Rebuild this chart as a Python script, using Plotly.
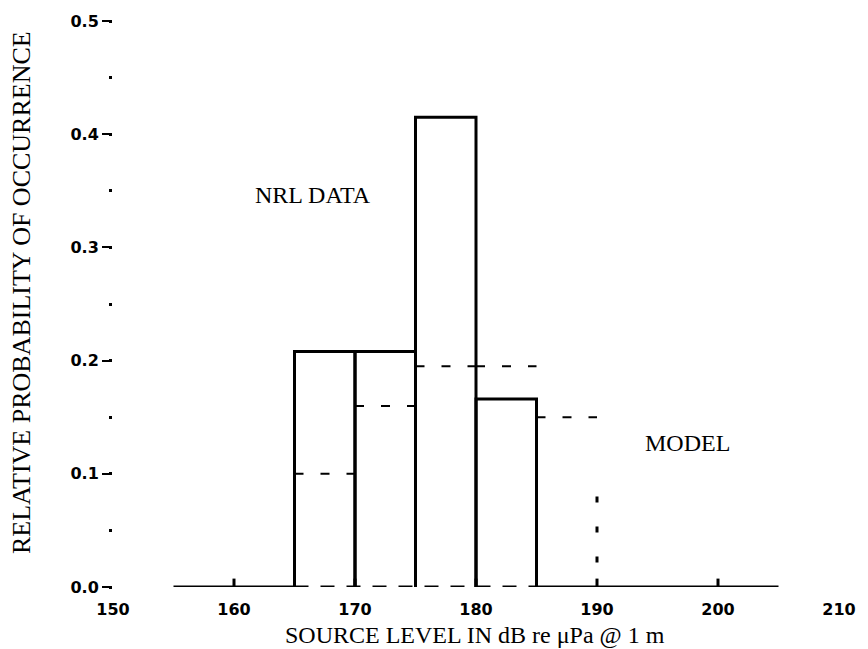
import plotly.graph_objects as go

# NRL data histogram (bin edges and relative probability)
nrl_lo = [165, 170, 175, 180]
nrl_hi = [170, 175, 180, 185]
nrl_val = [0.208, 0.208, 0.415, 0.166]

# Model (dashed levels per bin)
model_lo = [165, 170, 175, 180, 185]
model_hi = [170, 175, 180, 185, 190]
model_val = [0.10, 0.16, 0.195, 0.195, 0.15]
model_tail_x = 190
model_tail_val = 0.08

# Baseline extent and tick marks on it
base_solid = [(155, 165), (185, 205)]
base_dashed = (165, 185)
base_ticks = [160, 165, 170, 175, 180, 185, 190, 200]

x_ticks = [150, 160, 170, 180, 190, 200, 210]
y_ticks = [0.0, 0.1, 0.2, 0.3, 0.4, 0.5]

fig = go.Figure()

# NRL bars (three sides, no bottom)
bx, by = [], []
for lo, hi, v in zip(nrl_lo, nrl_hi, nrl_val):
    bx += [lo, lo, hi, hi, None]
    by += [0, v, v, 0, None]
fig.add_trace(go.Scatter(x=bx, y=by, mode="lines",
                         line=dict(color="black", width=3), hoverinfo="skip"))

# Model dashed levels
mx, my = [], []
for lo, hi, v in zip(model_lo, model_hi, model_val):
    mx += [lo, hi, None]
    my += [v, v, None]
fig.add_trace(go.Scatter(x=mx, y=my, mode="lines",
                         line=dict(color="black", width=2, dash="9px,17px"), hoverinfo="skip"))
fig.add_trace(go.Scatter(x=[model_tail_x, model_tail_x], y=[model_tail_val, 0], mode="lines",
                         line=dict(color="black", width=3, dash="6px,24px"), hoverinfo="skip"))

# Baseline
for a, b in base_solid:
    fig.add_trace(go.Scatter(x=[a, b], y=[0, 0], mode="lines",
                             line=dict(color="black", width=3), hoverinfo="skip"))
fig.add_trace(go.Scatter(x=list(base_dashed), y=[0, 0], mode="lines",
                         line=dict(color="black", width=3, dash="14px,12px"), hoverinfo="skip"))
fig.add_trace(go.Scatter(x=base_ticks, y=[0] * len(base_ticks), mode="markers",
                         marker=dict(symbol="line-ns", size=12, line=dict(color="black", width=3)),
                         hoverinfo="skip"))

fig.add_annotation(x=166.5, y=0.346, text="NRL DATA", showarrow=False,
                   font=dict(family="Liberation Serif", size=24, color="black"))
fig.add_annotation(x=197.5, y=0.127, text="MODEL", showarrow=False,
                   font=dict(family="Liberation Serif", size=24, color="black"))

# Axis titles
fig.add_annotation(xref="paper", yref="paper", x=0, y=0.5, xshift=-92, yshift=11,
                   xanchor="center", yanchor="middle",
                   text="RELATIVE PROBABILITY OF OCCURRENCE", textangle=-90, showarrow=False,
                   font=dict(family="Liberation Serif", size=26, color="black"))
fig.add_annotation(xref="paper", yref="paper", x=0.5, y=0, yshift=-48, xshift=-1,
                   xanchor="center", yanchor="middle",
                   text="SOURCE LEVEL IN dB re μPa @ 1 m", showarrow=False,
                   font=dict(family="Liberation Serif", size=24, color="black"))

fig.update_layout(
    width=868, height=649,
    margin=dict(l=113, r=21, t=12, b=62),
    paper_bgcolor="white", plot_bgcolor="white",
    showlegend=False,
    xaxis=dict(range=[150, 210], tickvals=x_ticks, showgrid=False, zeroline=False,
               showline=False, ticks="", ticklabelstandoff=11,
               tickfont=dict(family="DejaVu Sans", size=16, color="black", weight="bold")),
    yaxis=dict(range=[0, 0.5], tickvals=y_ticks, tickformat=".1f", showgrid=False,
               zeroline=False, showline=False, ticks="outside", ticklen=10, tickwidth=2,
               tickcolor="black",
               minor=dict(dtick=0.05, ticks="outside", ticklen=3, tickwidth=3, tickcolor="black"),
               tickfont=dict(family="DejaVu Sans", size=16, color="black", weight="bold")),
)

fig.write_html("out.html")
